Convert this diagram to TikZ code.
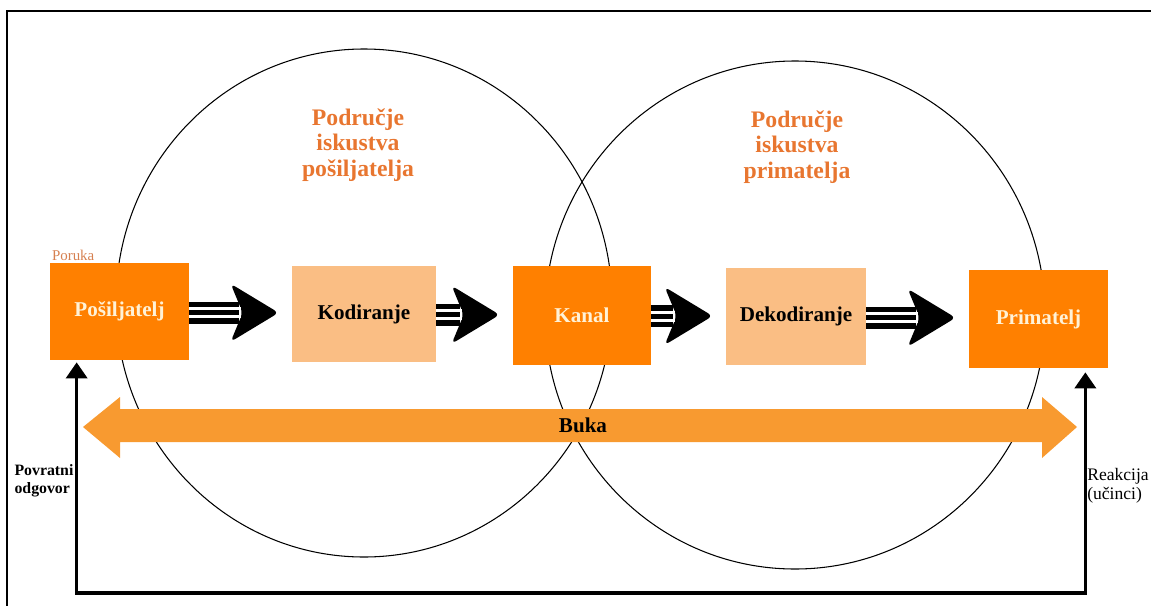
\documentclass[tikz,border=0pt]{standalone}
\usepackage{fontspec}
\setmainfont{Liberation Serif}
\usetikzlibrary{calc,arrows.meta}

\definecolor{darkor}{RGB}{255,128,0}
\definecolor{lightor}{RGB}{250,190,132}
\definecolor{bukaor}{RGB}{248,154,48}
\definecolor{titleor}{RGB}{232,118,48}
\definecolor{cream}{RGB}{255,242,215}
\definecolor{porukaor}{RGB}{214,128,80}

\tikzset{
  darkbox/.style={fill=darkor, text=cream, font=\bfseries\fontsize{12}{14}\selectfont, inner sep=0pt},
  lightbox/.style={fill=lightor, text=black, font=\bfseries\fontsize{12}{14}\selectfont, inner sep=0pt},
  areatitle/.style={text=titleor, align=center, font=\bfseries\fontsize{13.5}{14.5}\selectfont},
  sidenote/.style={align=left, inner sep=0pt},
  fbline/.style={line width=0.07cm, {Triangle[length=0.32cm,width=0.42cm]}-{Triangle[length=0.32cm,width=0.42cm]}},
}

% striped block arrow from one box towards the next
\newcommand{\fatarrow}[2]{%
  \coordinate (fa) at ($(#1.east)!.5!(#2.west)$);
  \coordinate (fs) at (fa -| #1.east);
  \coordinate (fe) at ($(fa -| #2.west)+(-13,0)$);
  \fill ($(fs)+(0,-11)$) rectangle ($(fe)+(-40,11)$);
  \fill[rounded corners=3pt] ($(fe)+(-48,-29)$) -- (fe) -- ($(fe)+(-48,29)$) -- ($(fe)+(-36,0)$) -- cycle;
  \draw[white, line width=0.06cm] ($(fs)+(0,-4)$) -- ($(fe)+(-38,-4)$);
  \draw[white, line width=0.06cm] ($(fs)+(0,4)$) -- ($(fe)+(-38,4)$);
}

\begin{document}
\begin{tikzpicture}[x=0.02cm, y=-0.02cm]
  \useasboundingbox (0,0) rectangle (1151,605);

  % frame
  \draw[line width=0.04cm] (7,11) rectangle (1180,640);

  % areas of experience
  \draw[line width=0.6pt] (364,303) ellipse [x radius=248, y radius=254];
  \draw[line width=0.6pt] (795,315) ellipse [x radius=250, y radius=254];
  \node[areatitle] (titleL) at (358,145) {Područje\\iskustva\\pošiljatelja};
  \node[areatitle] (titleR) at (797,147) {Područje\\iskustva\\primatelja};

  % noise
  \fill[bukaor] (83,427) -- (120,397) -- (120,409) -- (1042,409) -- (1042,397) -- (1077,427)
    -- (1042,458) -- (1042,442) -- (120,442) -- (120,458) -- cycle;
  \node[font=\bfseries\fontsize{12}{14}\selectfont] (buka) at (583,425) {Buka};

  % boxes
  \node[darkbox, minimum width=2.78cm, minimum height=1.94cm] (posil) at (119.5,311.5) {Pošiljatelj};
  \node[lightbox, minimum width=2.88cm, minimum height=1.92cm] (kod) at (364,314) {Kodiranje};
  \node[darkbox, minimum width=2.76cm, minimum height=1.98cm] (kanal) at (582,315.5) {Kanal};
  \node[lightbox, minimum width=2.80cm, minimum height=1.94cm] (dekod) at (796,316.5) {Dekodiranje};
  \node[darkbox, minimum width=2.78cm, minimum height=1.96cm] (prim) at (1038.5,319) {Primatelj};

  \node[anchor=south west, inner sep=0pt, text=porukaor, font=\fontsize{8.5}{9}\selectfont]
    (poruka) at ($(posil.north west)+(2,-2)$) {Poruka};

  \fatarrow{posil}{kod}
  \fatarrow{kod}{kanal}
  \fatarrow{kanal}{dekod}
  \fatarrow{dekod}{prim}

  % feedback loop
  \coordinate (fbL) at ($(posil.south west)+(27,2)$);
  \coordinate (fbR) at ($(prim.south east)+(-23,4)$);
  \coordinate (fbbase) at (580,593);
  \draw[fbline] (fbL) |- (fbbase) -| (fbR);

  \node[sidenote, font=\bfseries\fontsize{9}{10.5}\selectfont] (povratni) at (44,481) {Povratni\\odgovor};
  \node[sidenote, font=\fontsize{10}{11}\selectfont] (reakcija) at (1118,486) {Reakcija\\(učinci)};
\end{tikzpicture}
\end{document}
